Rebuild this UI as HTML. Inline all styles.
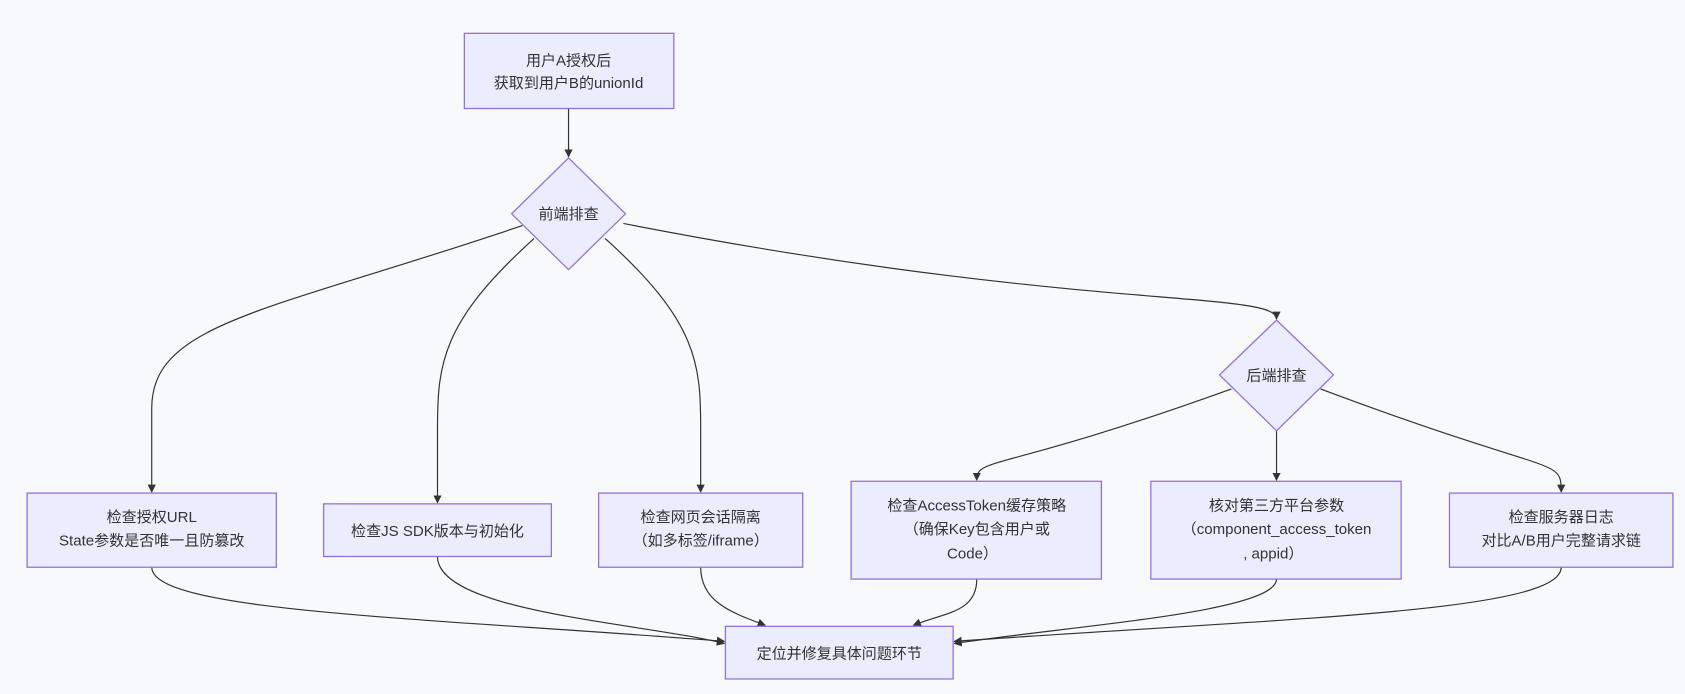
<!DOCTYPE html>
<html><head><meta charset="utf-8"><style>
html,body{margin:0;padding:0;background:#f8f9fb;}
svg{display:block}
text{font-family:"Liberation Sans","Noto Sans CJK SC",sans-serif;font-size:14px;fill:#333;text-anchor:middle;}
.n{fill:#ECECFF;stroke:#9370DB;stroke-width:1.2}
.e{fill:none;stroke:#333;stroke-width:1.1}
</style></head><body>
<svg width="1685" height="694" viewBox="0 0 1568 646" xmlns="http://www.w3.org/2000/svg">
<defs><marker id="a" viewBox="0 0 10 10" refX="9" refY="5" markerWidth="7" markerHeight="7" orient="auto"><path d="M0,0L10,5L0,10z" fill="#333"/></marker></defs>
<rect width="1568" height="646" fill="#f8f9fb"/>
<g class="e" marker-end="url(#a)">
<path d="M529,101 L529,146"/>
<path d="M486,210 C250,290 141,300 141,380 L141,458"/>
<path d="M497,222 C410,300 407,340 407,400 L407,468"/>
<path d="M563,222 C650,300 652,340 652,400 L652,458"/>
<path d="M580,208 C1000,290 1188,270 1188,297"/>
<path d="M1146,362 C930,440 909,425 909,447"/>
<path d="M1188,401 L1188,447"/>
<path d="M1229,362 C1450,445 1453,425 1453,458"/>
<path d="M141,528 C141,570 400,575 674,597"/>
<path d="M407,518 C407,570 600,580 674,599"/>
<path d="M652,528 C652,560 680,570 712,582"/>
<path d="M909,539 C909,570 880,570 850,582"/>
<path d="M1188,539 C1188,570 1000,582 888,599"/>
<path d="M1453,528 C1453,570 1200,575 888,597"/>
</g>
<rect class="n" x="432" y="31" width="195" height="70"/>
<text x="529" y="61">用户A授权后</text><text x="529" y="82">获取到用户B的unionId</text>
<polygon class="n" points="529,147 582,199 529,251 476,199"/>
<text x="529" y="204">前端排查</text>
<polygon class="n" points="1188,298 1241,349 1188,401 1135,349"/>
<text x="1188" y="354">后端排查</text>
<rect class="n" x="25" y="459" width="232" height="69"/>
<text x="141" y="486">检查授权URL</text><text x="141" y="508">State参数是否唯一且防篡改</text>
<rect class="n" x="301" y="469" width="212" height="49"/>
<text x="407" y="499">检查JS SDK版本与初始化</text>
<rect class="n" x="557" y="459" width="190" height="69"/>
<text x="652" y="486">检查网页会话隔离</text><text x="652" y="508">（如多标签/iframe）</text>
<rect class="n" x="792" y="448" width="233" height="91"/>
<text x="909" y="475">检查AccessToken缓存策略</text><text x="909" y="497">（确保Key包含用户或</text><text x="905" y="520">Code）</text>
<rect class="n" x="1071" y="448" width="233" height="91"/>
<text x="1188" y="475">核对第三方平台参数</text><text x="1188" y="497">（component_access_token</text><text x="1185" y="520">, appid）</text>
<rect class="n" x="1349" y="459" width="208" height="69"/>
<text x="1453" y="486">检查服务器日志</text><text x="1453" y="508">对比A/B用户完整请求链</text>
<rect class="n" x="675" y="583" width="212" height="49"/>
<text x="781" y="613">定位并修复具体问题环节</text>
</svg>
</body></html>
